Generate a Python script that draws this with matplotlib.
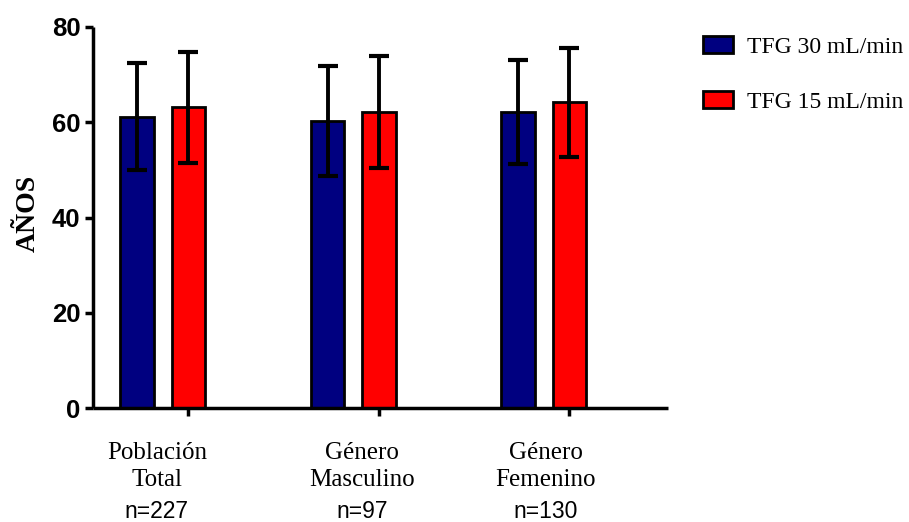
import matplotlib
matplotlib.use("Agg")
import matplotlib.pyplot as plt
import numpy as np

# Edad media (años) y desviación estándar por grupo
grupos = ["Población\nTotal", "Género\nMasculino", "Género\nFemenino"]
n_grupos = ["n=227", "n=97", "n=130"]
series = ["TFG 30 mL/min", "TFG 15 mL/min"]
media_30 = [61.2, 60.3, 62.1]
de_30 = [11.2, 11.5, 10.9]
media_15 = [63.1, 62.1, 64.2]
de_15 = [11.6, 11.8, 11.4]

colores = ["#000080", "#FF0000"]
serif = "Liberation Serif"
sans = "Liberation Sans"

fig = plt.figure(figsize=(9.09, 5.22), dpi=100)
ax = fig.add_axes([93 / 909, 1 - 408 / 522, (668 - 93) / 909, (408 - 27) / 522])

x = np.arange(len(grupos))
ancho = 0.175
desp = 0.135

err_kw = dict(ecolor="black", elinewidth=2.8, capsize=7, capthick=3)
b1 = ax.bar(x - desp, media_30, ancho, yerr=de_30, color=colores[0],
            edgecolor="black", linewidth=2, label=series[0], error_kw=err_kw)
b2 = ax.bar(x + desp, media_15, ancho, yerr=de_15, color=colores[1],
            edgecolor="black", linewidth=2, label=series[1], error_kw=err_kw)

ax.set_xlim(-0.366, 2.652)
ax.set_ylim(0, 80)
ax.set_yticks([0, 20, 40, 60, 80])
ax.set_xticks(x + desp)
ax.set_xticklabels([])

for lado in ["top", "right"]:
    ax.spines[lado].set_visible(False)
for lado in ["left", "bottom"]:
    ax.spines[lado].set_linewidth(2.5)
    ax.spines[lado].set_capstyle("butt")

ax.tick_params(axis="both", width=2.5, length=6)
ax.tick_params(axis="y", pad=3)
for t in ax.get_yticklabels():
    t.set_fontfamily(sans)
    t.set_fontweight("bold")
    t.set_fontsize(18.5)

ax.set_ylabel("AÑOS", fontfamily=serif, fontweight="bold", fontsize=20,
              va="center")
ax.yaxis.set_label_coords(-0.113, 0.51)

# Rótulos de los grupos debajo del eje (desplazamiento horizontal en px)
ajuste_px = [-6, 9, 2]
for xi, nombre, n, dx in zip(x, grupos, n_grupos, ajuste_px):
    dx_pt = dx * 0.72
    lineas = nombre.split("\n")
    for k, linea in enumerate(lineas):
        ax.annotate(linea, xy=(xi, 0), xycoords=("data", "axes fraction"),
                    xytext=(dx_pt, -36.5 - 19.5 * k), textcoords="offset points",
                    ha="center", va="baseline", fontfamily=serif, fontsize=18)
    ax.annotate(n, xy=(xi, 0), xycoords=("data", "axes fraction"),
                xytext=(dx_pt, -79.0), textcoords="offset points",
                ha="center", va="baseline", fontfamily=sans, fontsize=16.5)

leg = ax.legend(handles=[b1.patches[0], b2.patches[0]], labels=series,
                loc="upper left", bbox_to_anchor=(703 / 909, 1 - 36 / 522),
                bbox_transform=fig.transFigure, frameon=False, borderpad=0,
                borderaxespad=0, handlelength=1.25, handleheight=0.75,
                handletextpad=0.6, labelspacing=1.4,
                prop={"family": serif, "size": 17})

fig.savefig("out.png", dpi=100)
